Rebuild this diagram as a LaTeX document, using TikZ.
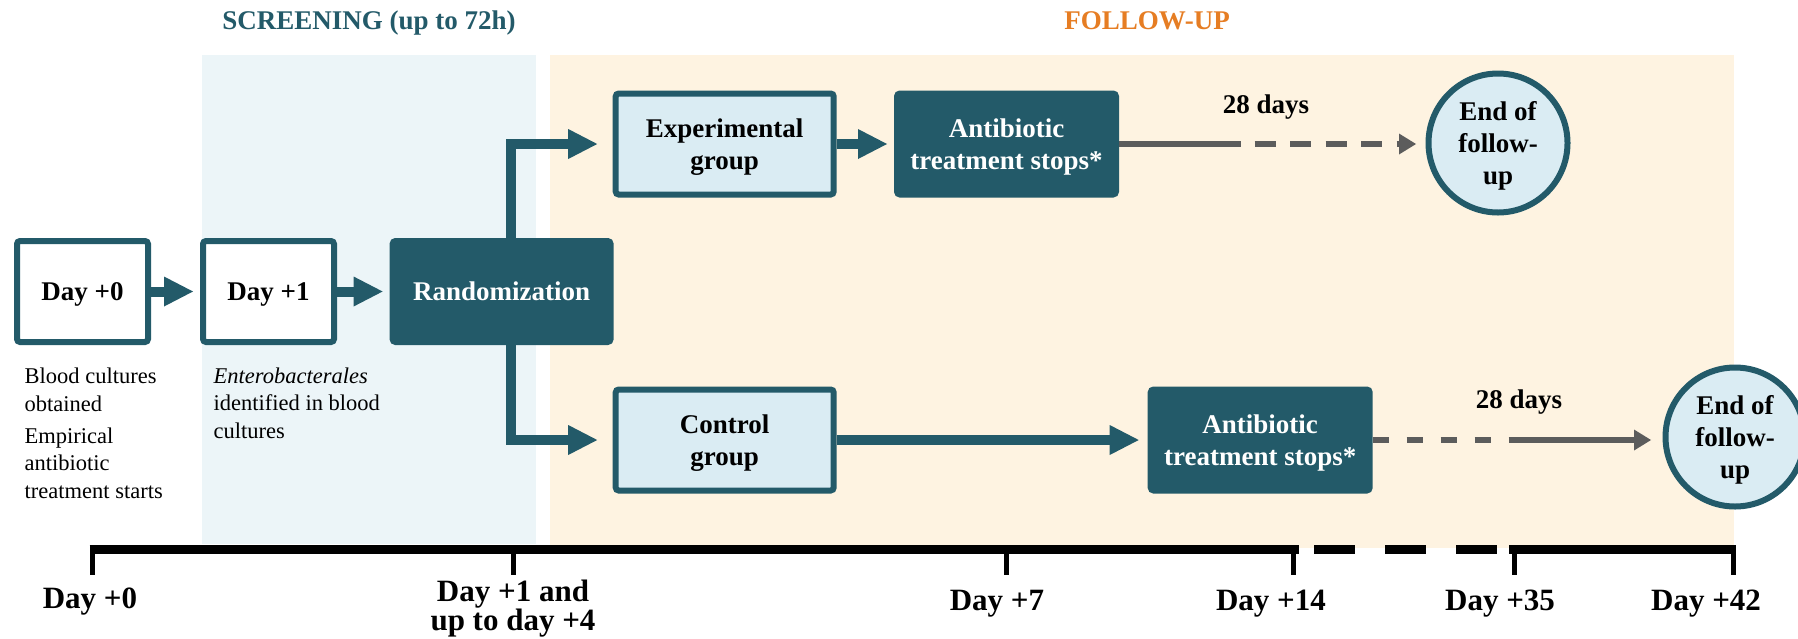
\documentclass[tikz,border=0pt]{standalone}
\usepackage{fontspec}
\setmainfont{Liberation Serif}
\usetikzlibrary{arrows.meta}

\definecolor{tealdk}{RGB}{35,90,105}
\definecolor{paleblue}{RGB}{236,245,248}
\definecolor{paleorange}{RGB}{254,243,225}
\definecolor{boxblue}{RGB}{218,236,243}
\definecolor{arrowgray}{RGB}{92,92,92}
\definecolor{titleorange}{RGB}{230,125,35}

\newcommand\txtNote{\fontsize{22.5}{27.5}\selectfont}
\newcommand\txtBox{\fontsize{27}{32}\selectfont\bfseries}
\newcommand\txtAxis{\fontsize{31}{28.5}\selectfont\bfseries}

\begin{document}
\begin{tikzpicture}[x=1pt, y=-1pt,
  flowbox/.style={draw=tealdk, line width=6pt, rounded corners=3pt, inner sep=0pt,
                  align=center, font=\txtBox, text depth=0pt},
  daybox/.style={flowbox, fill=white, minimum width=131pt, minimum height=101pt},
  groupbox/.style={flowbox, fill=boxblue, minimum width=218pt, minimum height=101pt},
  darkbox/.style={flowbox, fill=tealdk, text=white, minimum width=219pt, minimum height=101pt},
  endcircle/.style={circle, draw=tealdk, line width=6pt, fill=boxblue, minimum size=139pt,
                    inner sep=0pt, align=center, font=\txtBox, text depth=0pt},
  flowarrow/.style={draw=tealdk, line width=10pt,
                    -{Triangle[length=29pt, width=30pt, line width=0pt]}, shorten >=7pt},
  grayline/.style={draw=arrowgray, line width=6pt},
  graytip/.style={-{Triangle[length=17pt, width=21pt, line width=0pt]}},
  timeline/.style={draw=black, line width=9pt},
  axistick/.style={draw=black, line width=5pt},
  notetext/.style={font=\txtNote, align=left, inner sep=0pt, anchor=base west},
  daylabel/.style={font=\txtAxis, align=center, inner sep=0pt, anchor=base},
  phasetitle/.style={font=\txtBox, inner sep=0pt, anchor=base},
]
% canvas
\fill[white] (0,0) rectangle (1798,638);
\useasboundingbox (0,0) rectangle (1798,638);

% phase panels
\fill[paleblue] (202,55) rectangle (536,544);
\fill[paleorange] (550,55) rectangle (1734,548);
\node[phasetitle, text=tealdk] (screening) at (369,29) {SCREENING (up to 72h)};
\node[phasetitle, text=titleorange] (followup) at (1147,29) {FOLLOW-UP};

% flow boxes
\node[daybox] (d0) at (82.5,291.5) {Day +0};
\node[daybox] (d1) at (268.5,291.5) {Day +1};
\node[flowbox, fill=tealdk, text=white, minimum width=218pt, minimum height=101pt]
     (rand) at (501.6,291.5) {Randomization};
\node[groupbox] (exp) at (724.7,144) {Experimental\\group};
\node[groupbox] (ctrl) at (724.7,440) {Control\\group};
\node[darkbox] (ab1) at (1006.5,144) {Antibiotic\\treatment stops*};
\node[darkbox] (ab2) at (1260.2,440) {Antibiotic\\treatment stops*};
\node[endcircle] (end1) at (1498,143) {End of\\follow-\\up};
\node[endcircle] (end2) at (1735,437) {End of\\follow-\\up};
\coordinate (split) at (511,291.5);

% notes under the first boxes (anchored on the last line's baseline)
\node[notetext] (n0a) at (24.5,411) {Blood cultures\\obtained};
\node[notetext] (n0b) at (24.5,498) {Empirical\\antibiotic\\treatment starts};
\node[notetext] (n1) at (213.5,438) {\textit{Enterobacterales}\\identified in blood\\cultures};

% teal flow arrows
\draw[flowarrow] (d0) -- (d1);
\draw[flowarrow] (d1) -- (rand);
\draw[flowarrow, shorten >=15.5pt] (rand.north -| split) |- (exp.west);
\draw[flowarrow, shorten >=15.5pt] (rand.south -| split) |- (ctrl.west);
\draw[flowarrow] (exp) -- (ab1);
\draw[flowarrow, shorten >=9pt] (ctrl) -- (ab2);

% 28-day follow-up, experimental arm
\draw[grayline] (ab1.east) -- ([xshift=122pt]ab1.east);
\draw[grayline, graytip, dash pattern=on 21pt off 14.5pt, shorten >=9.5pt]
     ([xshift=135.5pt]ab1.east) -- (ab1.east -| end1.west);
\node[phasetitle] (days1) at (1266,113) {28 days};

% 28-day follow-up, control arm
\draw[grayline, dash pattern=on 16pt off 18pt] (ab2.east) -- ([xshift=121pt]ab2.east);
\draw[grayline, graytip, shorten >=11.5pt] ([xshift=136pt]ab2.east) -- (ab2.east -| end2.west);
\node[phasetitle] (days2) at (1519,408) {28 days};

% time axis
\coordinate (t0) at (92,549);
\coordinate (t1) at (513,549);
\coordinate (t7) at (1006,549);
\coordinate (t14) at (1293,549);
\coordinate (t35) at (1514,549);
\coordinate (t42) at (1733,549);
\draw[timeline] ([xshift=-2.5pt]t0) -- ([xshift=6pt]t14);
\draw[timeline, dash pattern=on 40.5pt off 30.5pt] ([xshift=21pt]t14) -- ([xshift=-17pt]t35);
\draw[timeline] ([xshift=-5pt]t35) -- ([xshift=2.5pt]t42);
\foreach \t in {t0,t1,t7,t14,t35,t42}
  \draw[axistick] (\t) -- ++(0,26);

\node[daylabel] (l0) at (90,608) {Day +0};
\node[daylabel] (l1) at (513,630) {Day +1 and\\up to day +4};
\node[daylabel] (l7) at (997,610) {Day +7};
\node[daylabel] (l14) at (1271,610) {Day +14};
\node[daylabel] (l35) at (1500,610) {Day +35};
\node[daylabel] (l42) at (1706,610) {Day +42};
\end{tikzpicture}
\end{document}
